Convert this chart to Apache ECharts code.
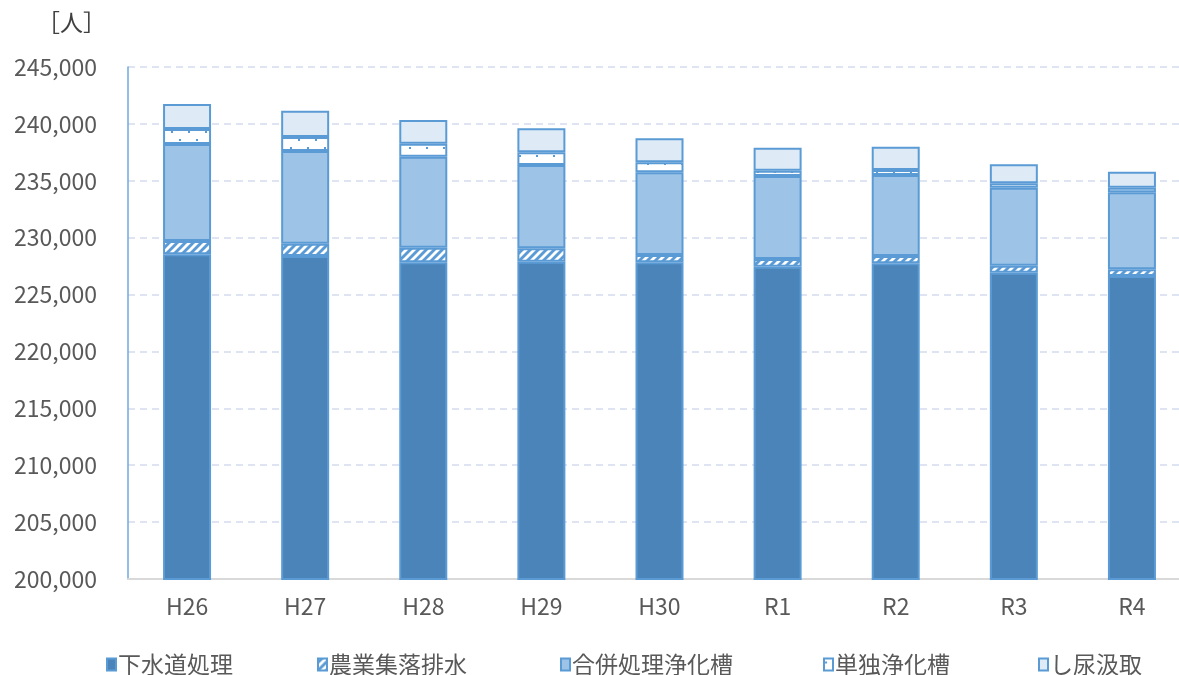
<!DOCTYPE html>
<html>
<head>
<meta charset="utf-8">
<script src="https://cdn.jsdelivr.net/npm/echarts@6/dist/echarts.min.js"></script>
<style>
html,body{margin:0;padding:0;background:#fff;overflow:hidden;width:1179px;height:675px;}
#c{width:1191px;height:675px;}
</style>
</head>
<body>
<div id="c"></div>
<script>
var categories = ['H26','H27','H28','H29','H30','R1','R2','R3','R4'];
var seriesNames = ['下水道処理','農業集落排水','合併処理浄化槽','単独浄化槽','し尿汲取'];
var sewer     = [228540, 228390, 227840, 227890, 227835, 227450, 227750, 226920, 226630];
var farm      = [1160, 1080, 1280, 1175, 645, 675, 640, 615, 590];
var combined  = [8530, 8150, 8000, 7325, 7265, 7295, 7120, 6855, 6770];
var single    = [1320, 1230, 1140, 1110, 875, 470, 440, 390, 400];
var nightsoil = [2200, 2310, 2080, 2110, 2110, 2020, 2045, 1670, 1410];
var yMin = 200000, yMax = 245000, yStep = 5000;
var unitLabel = '［人］';

var EDGE = '#5B9BD5';
function hatchPattern(){
  var c = document.createElement('canvas');
  c.width = 8; c.height = 8;
  var g = c.getContext('2d');
  g.fillStyle = EDGE; g.fillRect(0,0,8,8);
  g.strokeStyle = '#ffffff'; g.lineWidth = 2.8;
  g.beginPath();
  g.moveTo(-1,9); g.lineTo(9,-1);
  g.moveTo(-5,5); g.lineTo(5,-5);
  g.moveTo(3,13); g.lineTo(13,3);
  g.stroke();
  return c;
}
function dotPattern(){
  var c = document.createElement('canvas');
  c.width = 17; c.height = 16;
  var g = c.getContext('2d');
  g.fillStyle = '#ffffff'; g.fillRect(0,0,17,16);
  g.fillStyle = EDGE;
  g.fillRect(1,3,2,2);
  g.fillRect(9,11,2,2);
  return c;
}

var fills = [
  '#4A84B8',
  {image: hatchPattern(), repeat: 'repeat'},
  '#9DC3E6',
  {image: dotPattern(), repeat: 'repeat'},
  '#DEEBF7'
];
var datas = [sewer, farm, combined, single, nightsoil];

var FONT = '"Noto Sans CJK JP", "Noto Sans", sans-serif';
var TXT = '#595959';

var series = seriesNames.map(function(n, i){
  return {
    name: n, type: 'bar', stack: 'total', barWidth: 48,
    data: datas[i],
    itemStyle: {color: fills[i], borderColor: EDGE, borderWidth: 2},
    emphasis: {disabled: true}
  };
});

var legendLeft = [101, 312, 555, 818, 1033];
var legends = seriesNames.map(function(n, i){
  return {
    data: [n], left: legendLeft[i], top: 648,
    icon: 'rect', itemWidth: 9, itemHeight: 12, itemGap: 0,
    textStyle: {fontFamily: FONT, fontSize: 23, color: TXT, padding: [0,0,0,-3]},
    selectedMode: false
  };
});

var chart = echarts.init(document.getElementById('c'), null, {renderer: 'canvas'});
chart.setOption({
  animation: false,
  backgroundColor: '#fff',
  title: {
    text: unitLabel, left: 32, top: 6,
    textStyle: {fontFamily: FONT, fontSize: 23, fontWeight: 'normal', color: '#404040'}
  },
  legend: legends,
  grid: {left: 128, top: 67, width: 1063, height: 512, containLabel: false},
  xAxis: {
    type: 'category', data: categories,
    axisLine: {lineStyle: {color: '#D9D9D9', width: 2}},
    axisTick: {show: false},
    axisLabel: {fontFamily: FONT, fontSize: 23, color: TXT, margin: 16}
  },
  yAxis: {
    type: 'value', min: yMin, max: yMax, interval: yStep,
    axisLine: {show: true, lineStyle: {color: '#6FA8DC', width: 1.5}},
    axisTick: {show: false},
    splitLine: {show: true, lineStyle: {color: '#D5DCEE', width: 1.5, type: [7,5]}},
    axisLabel: {
      fontFamily: FONT, fontSize: 23, color: TXT, margin: 31,
      formatter: function(v){ return v.toLocaleString('en-US'); }
    }
  },
  series: series
});
</script>
</body>
</html>
